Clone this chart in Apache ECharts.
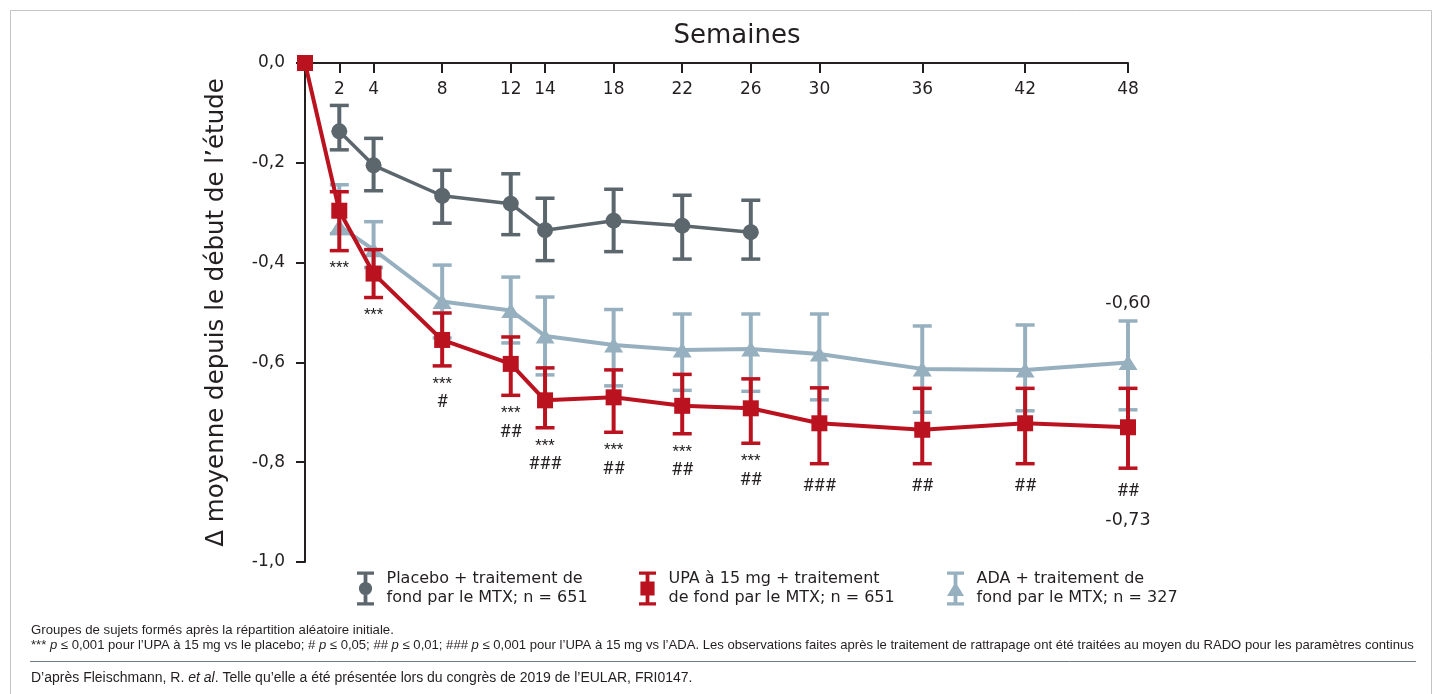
<!DOCTYPE html>
<html>
<head>
<meta charset="utf-8">
<script src="https://cdn.jsdelivr.net/npm/echarts@6/dist/echarts.min.js"></script>
<style>
html,body{margin:0;padding:0;background:#fff;}
#chart{width:1440px;height:694px;}
</style>
</head>
<body>
<div id="chart"></div>
<script>
// ---------- DATA ----------
const weekTicks = [2, 4, 8, 12, 14, 18, 22, 26, 30, 36, 42, 48];
const yTicks = [0, -0.2, -0.4, -0.6, -0.8, -1.0];

const placeboWeeks = [2, 4, 8, 12, 14, 18, 22, 26];
const placeboMean  = [-0.137, -0.205, -0.266, -0.282, -0.335, -0.316, -0.326, -0.339];
const placeboLow   = [-0.174, -0.256, -0.321, -0.344, -0.396, -0.378, -0.393, -0.393];
const placeboHigh  = [-0.085, -0.151, -0.215, -0.222, -0.271, -0.253, -0.265, -0.275];

const upaWeeks = [0, 2, 4, 8, 12, 14, 18, 22, 26, 30, 36, 42, 48];
const upaMean  = [0, -0.296, -0.422, -0.555, -0.603, -0.676, -0.670, -0.687, -0.692, -0.722, -0.735, -0.722, -0.73];
const upaLow   = [null, -0.376, -0.470, -0.607, -0.666, -0.731, -0.740, -0.743, -0.762, -0.803, -0.803, -0.803, -0.812];
const upaHigh  = [null, -0.258, -0.374, -0.501, -0.549, -0.611, -0.615, -0.624, -0.633, -0.651, -0.652, -0.652, -0.652];
const upaStars  = ['', '***', '***', '***', '***', '***', '***', '***', '***', '', '', '', ''];
const upaHashes = ['', '', '', '#', '##', '###', '##', '##', '##', '###', '##', '##', '##'];

const adaWeeks = [2, 4, 8, 12, 14, 18, 22, 26, 30, 36, 42, 48];
const adaMean  = [-0.327, -0.374, -0.478, -0.496, -0.547, -0.565, -0.575, -0.573, -0.583, -0.613, -0.615, -0.60];
const adaLow   = [-0.342, -0.410, -0.551, -0.561, -0.625, -0.647, -0.656, -0.658, -0.675, -0.700, -0.697, -0.695];
const adaHigh  = [-0.244, -0.318, -0.405, -0.429, -0.469, -0.494, -0.503, -0.503, -0.503, -0.527, -0.525, -0.517];

const seriesNames = [
  'Placebo + traitement de\nfond par le MTX; n = 651',
  'UPA à 15 mg + traitement\nde fond par le MTX; n = 651',
  'ADA + traitement de\nfond par le MTX; n = 327'
];

// ---------- STYLE ----------
const C_PLA = '#5b666d';
const C_UPA = '#bb1220';
const C_ADA = '#97b0bf';
const TXT = '#231f20';
const FONT = 'Roboto';
const WIDE = 'DejaVu Sans';

const fmt = (v, d) => v.toFixed(d).replace('.', ',');

function zip(ws, a, b) { return ws.map((w, i) => [w, a[i], b ? b[i] : undefined]); }

function errRender(color, opts) {
  opts = opts || {};
  return function (params, api) {
    const i = params.dataIndex;
    const x = api.value(0), lo = api.value(1), hi = api.value(2);
    if (lo == null || isNaN(lo)) return null;
    const pLo = api.coord([x, lo]);
    const pHi = api.coord([x, hi]);
    const h = 9.5;
    const children = [
      { type: 'line', shape: { x1: pHi[0], y1: pHi[1], x2: pLo[0], y2: pLo[1] }, style: { stroke: color, lineWidth: 4 } },
      { type: 'line', shape: { x1: pHi[0] - h, y1: pHi[1], x2: pHi[0] + h, y2: pHi[1] }, style: { stroke: color, lineWidth: 3.5 } },
      { type: 'line', shape: { x1: pLo[0] - h, y1: pLo[1], x2: pLo[0] + h, y2: pLo[1] }, style: { stroke: color, lineWidth: 3.5 } }
    ];
    if (opts.stars) {
      const s = opts.stars[i], hs = opts.hashes[i];
      if (s) {
        children.push({ type: 'text', style: { text: s, x: pLo[0], y: pLo[1] + 18, align: 'center', verticalAlign: 'middle', fontFamily: FONT, fontSize: 15, fill: TXT } });
        if (hs) children.push({ type: 'text', style: { text: hs, x: pLo[0], y: pLo[1] + 37, align: 'center', verticalAlign: 'middle', fontFamily: FONT, fontSize: 18, fill: TXT } });
      } else if (hs) {
        children.push({ type: 'text', style: { text: hs, x: pLo[0], y: pLo[1] + 23, align: 'center', verticalAlign: 'middle', fontFamily: FONT, fontSize: 18, fill: TXT } });
      }
    }
    if (opts.endBelow && i === params.dataInsideLength - 1) {
      children.push({ type: 'text', style: { text: fmt(opts.endBelow[i], 2), x: pLo[0], y: pLo[1] + 52, align: 'center', verticalAlign: 'middle', fontFamily: WIDE, fontSize: 17.5, fill: TXT } });
    }
    if (opts.endAbove && i === params.dataInsideLength - 1) {
      children.push({ type: 'text', style: { text: fmt(opts.endAbove[i], 2), x: pHi[0], y: pHi[1] - 18, align: 'center', verticalAlign: 'middle', fontFamily: WIDE, fontSize: 17.5, fill: TXT } });
    }
    return { type: 'group', children };
  };
}

const iconCircle = 'path://M0,0H18V3.5H0Z M7,0H11V36H7Z M0,32.5H18V36H0Z M2,18A7,7 0 1,1 16,18A7,7 0 1,1 2,18Z';
const iconSquare = 'path://M0,0H18V3.5H0Z M7,0H11V36H7Z M0,32.5H18V36H0Z M1.5,10.5H16.5V25.5H1.5Z';
const iconTri    = 'path://M0,0H18V3.5H0Z M7,0H11V36H7Z M0,32.5H18V36H0Z M9,11L18,26H0Z';

const chart = echarts.init(document.getElementById('chart'), null, { renderer: 'canvas' });

const legendBase = {
  top: 566, itemWidth: 18, itemHeight: 34, selectedMode: false,
  textStyle: { fontFamily: WIDE, fontSize: 16, lineHeight: 19, color: TXT, padding: [-8, 0, 0, 7] }
};

const option = {
  animation: false,
  backgroundColor: '#fff',
  grid: { left: 305, right: 312, top: 63, bottom: 132, containLabel: false },
  legend: [
    Object.assign({}, legendBase, { left: 352, data: [{ name: seriesNames[0], icon: iconCircle, itemStyle: { color: C_PLA } }] }),
    Object.assign({}, legendBase, { left: 634, data: [{ name: seriesNames[1], icon: iconSquare, itemStyle: { color: C_UPA } }] }),
    Object.assign({}, legendBase, { left: 942, data: [{ name: seriesNames[2], icon: iconTri, itemStyle: { color: C_ADA } }] })
  ],
  xAxis: {
    type: 'value', position: 'top', min: 0, max: 48,
    axisLine: { show: true, lineStyle: { color: TXT, width: 2 } },
    axisTick: { show: true, inside: true, length: 10, lineStyle: { color: TXT, width: 2 }, customValues: weekTicks },
    axisLabel: { inside: true, margin: 18, fontFamily: WIDE, fontSize: 17, color: TXT, customValues: weekTicks, verticalAlign: 'top' },
    splitLine: { show: false }
  },
  yAxis: {
    type: 'value', min: -1, max: 0, interval: 0.2,
    name: 'Δ moyenne depuis le début de l\u2019étude',
    nameLocation: 'middle', nameRotate: 90, nameGap: 76,
    nameTextStyle: { fontFamily: WIDE, fontSize: 24.5, color: TXT },
    axisLine: { show: true, lineStyle: { color: TXT, width: 2 } },
    axisTick: { show: true, length: 9, lineStyle: { color: TXT, width: 2 } },
    axisLabel: { margin: 20, fontFamily: WIDE, fontSize: 17, color: TXT, formatter: v => fmt(v, 1) },
    splitLine: { show: false }
  },
  series: [
    { type: 'custom', name: seriesNames[0] + ' err', renderItem: errRender(C_PLA), data: zip(placeboWeeks, placeboLow, placeboHigh), encode: { x: 0, y: [1, 2] }, z: 1, clip: false },
    { type: 'line', name: seriesNames[0], data: zip(placeboWeeks, placeboMean), symbol: 'circle', symbolSize: 16, color: C_PLA, lineStyle: { color: C_PLA, width: 3.5 }, itemStyle: { color: C_PLA }, z: 2, clip: false },
    { type: 'custom', name: seriesNames[2] + ' err', renderItem: errRender(C_ADA, { endAbove: adaMean }), data: zip(adaWeeks, adaLow, adaHigh), encode: { x: 0, y: [1, 2] }, z: 3, clip: false },
    { type: 'line', name: seriesNames[2], data: zip(adaWeeks, adaMean), symbol: 'triangle', symbolSize: [19, 15], color: C_ADA, lineStyle: { color: C_ADA, width: 4 }, itemStyle: { color: C_ADA }, z: 4, clip: false },
    { type: 'custom', name: seriesNames[1] + ' err', renderItem: errRender(C_UPA, { stars: upaStars, hashes: upaHashes, endBelow: upaMean }), data: zip(upaWeeks, upaLow, upaHigh), encode: { x: 0, y: [1, 2] }, z: 5, clip: false },
    { type: 'line', name: seriesNames[1], data: zip(upaWeeks, upaMean), symbol: 'rect', symbolSize: 16, color: C_UPA, lineStyle: { color: C_UPA, width: 4 }, itemStyle: { color: C_UPA }, z: 6, clip: false }
  ],
  graphic: [
    { type: 'rect', shape: { x: 10.5, y: 10.5, width: 1421, height: 720 }, style: { fill: 'none', stroke: '#c4c4c4', lineWidth: 1 }, silent: true, z: -1 },
    { type: 'text', x: 737, y: 36, style: { text: 'Semaines', fontFamily: WIDE, fontSize: 26, fill: TXT, align: 'center', verticalAlign: 'middle' } },
    { type: 'text', x: 31, y: 630, style: { text: 'Groupes de sujets formés après la répartition aléatoire initiale.', fontFamily: 'Liberation Sans', fontSize: 13.2, fill: TXT, verticalAlign: 'middle' } },
    { type: 'text', x: 31, y: 645, style: {
        text: '*** {i|p} ≤ 0,001 pour l\u2019UPA à 15 mg vs le placebo; # {i|p} ≤ 0,05; ## {i|p} ≤ 0,01; ### {i|p} ≤ 0,001 pour l\u2019UPA à 15 mg vs l\u2019ADA. Les observations faites après le traitement de rattrapage ont été traitées au moyen du RADO pour les paramètres continus',
        rich: { i: { fontStyle: 'italic', fontFamily: 'Liberation Sans', fontSize: 13.1, fill: TXT } },
        fontFamily: 'Liberation Sans', fontSize: 13.1, fill: TXT, verticalAlign: 'middle' } },
    { type: 'line', shape: { x1: 30, y1: 661.5, x2: 1416, y2: 661.5 }, style: { stroke: '#6f7c86', lineWidth: 1 } },
    { type: 'text', x: 31, y: 678, style: {
        text: 'D\u2019après Fleischmann, R. {i|et al}. Telle qu\u2019elle a été présentée lors du congrès de 2019 de l\u2019EULAR, FRI0147.',
        rich: { i: { fontStyle: 'italic', fontFamily: 'Liberation Sans', fontSize: 14, fill: TXT } },
        fontFamily: 'Liberation Sans', fontSize: 14, fill: TXT, verticalAlign: 'middle' } }
  ]
};
chart.setOption(option);
</script>
</body>
</html>
